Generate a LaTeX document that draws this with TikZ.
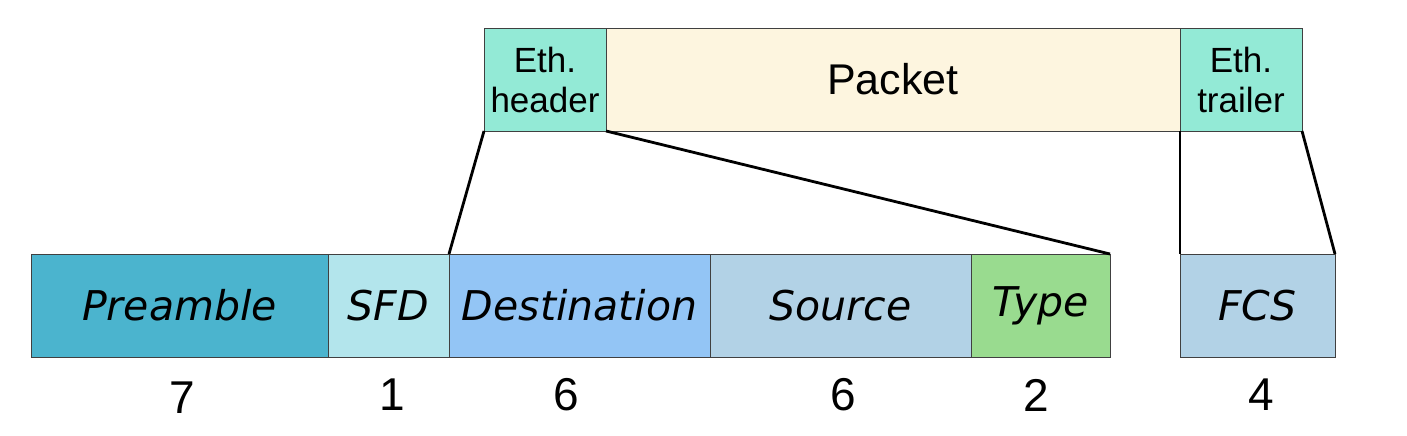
\documentclass[tikz,border=0pt]{standalone}
\usepackage{fontspec}
\setmainfont{Liberation Sans}
\newfontfamily\handfont{DejaVu Sans}
\begin{document}
\begin{tikzpicture}[x=1pt,y=-1pt,
  box/.style={draw=black!75, line width=0.9pt, inner sep=0pt, outer sep=0pt, minimum height=103pt},
  hand/.style={font=\handfont\itshape\fontsize{41}{44}\selectfont},
  top/.style={font=\fontsize{35}{40}\selectfont, align=center},
  num/.style={font=\fontsize{46}{50}\selectfont},
  conn/.style={line width=2.8pt, black}]
\useasboundingbox (0,0) rectangle (1407,436);
\definecolor{cpre}{HTML}{4BB4CE}
\definecolor{csfd}{HTML}{B3E5EC}
\definecolor{cdst}{HTML}{93C5F5}
\definecolor{csrc}{HTML}{B2D2E6}
\definecolor{ctyp}{HTML}{99DB8F}
\definecolor{ceth}{HTML}{93EAD6}
\definecolor{cpkt}{HTML}{FDF5DF}
% top row
\node[box, fill=ceth, minimum width=122pt, top] (eh) at (545,79.5) {Eth.\\header};
\node[box, fill=cpkt, minimum width=574pt, font=\fontsize{43}{46}\selectfont] (pkt) at (893,79.5) {Packet};
\node[box, fill=ceth, minimum width=122pt, top] (et) at (1241,79.5) {Eth.\\trailer};
% bottom row
\node[box, fill=cpre, minimum width=297pt, hand] (pre) at (179.5,305.5) {Preamble};
\node[box, fill=csfd, minimum width=121pt, hand] (sfd) at (388.5,305.5) {SFD};
\node[box, fill=cdst, minimum width=261pt, hand] (dst) at (579.5,305.5) {Destination};
\node[box, fill=csrc, minimum width=261pt, hand] (src) at (840.5,305.5) {Source};
\node[box, fill=ctyp, minimum width=139pt, hand] (typ) at (1040.5,305.5) {Type};
\node[box, fill=csrc, minimum width=155pt, hand] (fcs) at (1257.5,305.5) {FCS};
% numbers
\node[num] (n1) at (182,398) {7};
\node[num] (n2) at (392,395) {1};
\node[num] (n3) at (566,395) {6};
\node[num] (n4) at (843,395) {6};
\node[num] (n5) at (1036,395) {2};
\node[num] (n6) at (1261,395) {4};
% connectors
\draw[conn] (eh.south west) -- (dst.north west);
\draw[conn] (eh.south east) -- (typ.north east);
\draw[conn] (et.south west) -- (fcs.north west);
\draw[conn] (et.south east) -- (fcs.north east);
\end{tikzpicture}
\end{document}
